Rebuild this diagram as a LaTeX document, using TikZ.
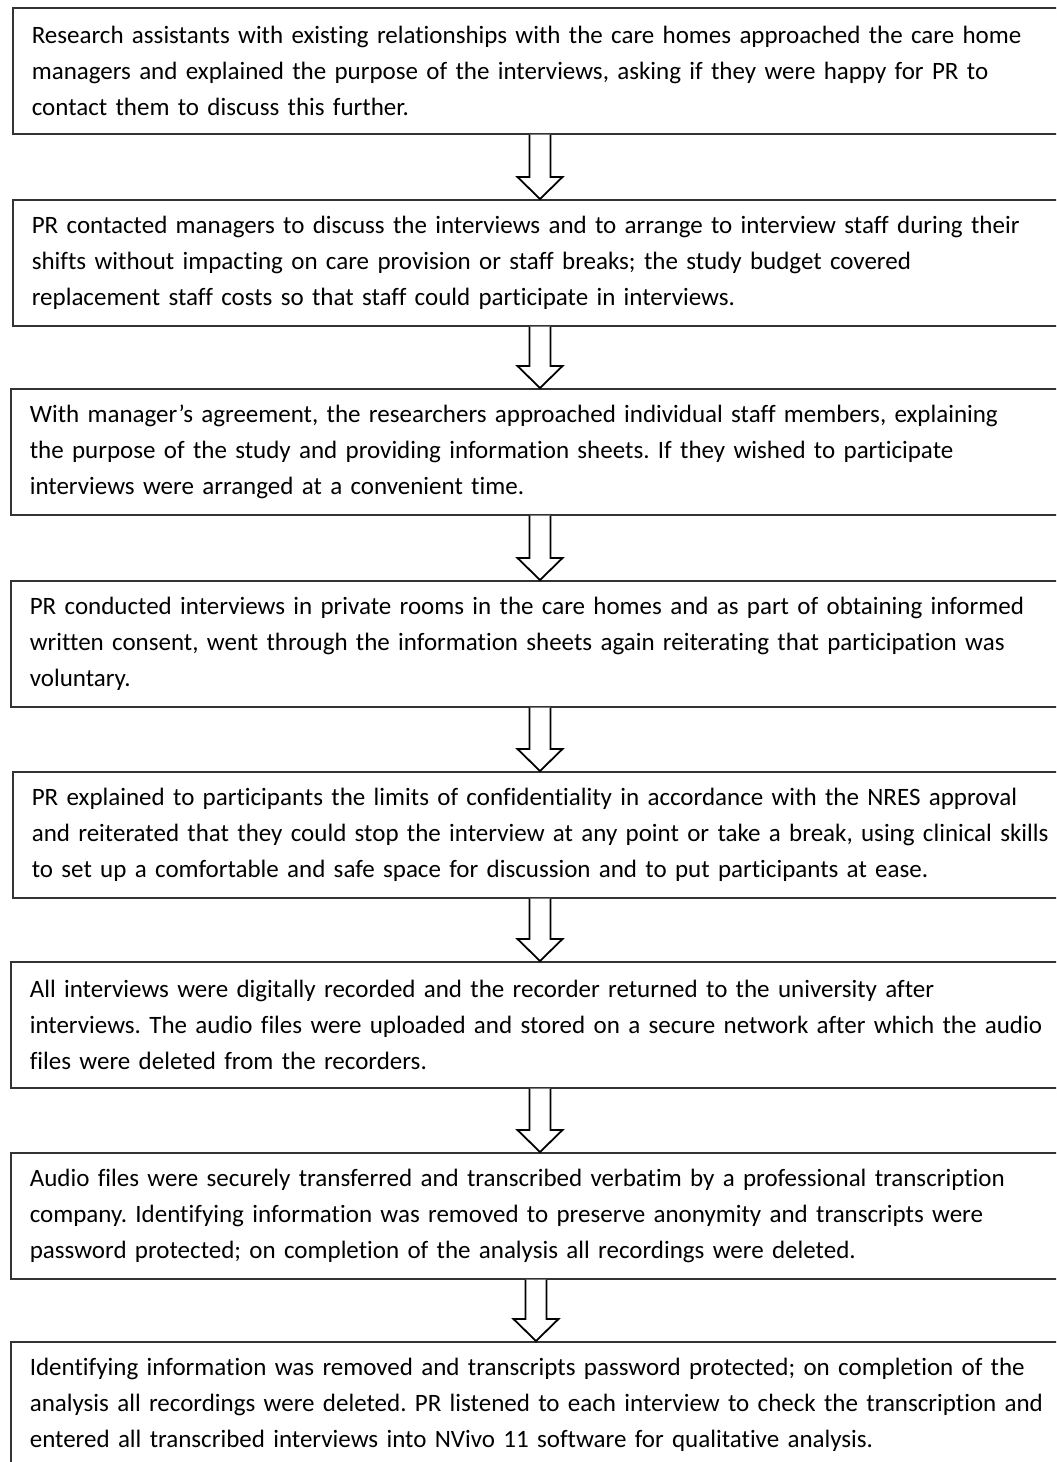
\documentclass[tikz,border=0pt]{standalone}
\usepackage{fontspec}
\setmainfont{Carlito}[Ligatures=NoCommon]
\frenchspacing
\usetikzlibrary{calc,positioning}
\tikzset{stepbox/.style={draw=black!80, line width=0.8pt, anchor=north west,
    minimum height=63pt, text width=520pt, inner xsep=9.5pt, inner ysep=0pt,
    align=left, font=\fontsize{12.5pt}{18pt}\selectfont},
  blockarrow/.style={draw=black, line width=0.9pt, fill=white, line join=miter}}

\begin{document}
\begin{tikzpicture}[x=0.5pt,y=-0.5pt]
          \clip (0,0) rectangle (1056,1462);
          \node[stepbox] (b1) at (12,7) {Research assistants with existing relationships with the care homes approached the care home\\
            managers and explained the purpose of the interviews, asking if they were happy for PR to\\
            contact them to discuss this further.};
          \node[stepbox] (b2) at (12,199) {PR contacted managers to discuss the interviews and to arrange to interview staff during their\\
            shifts without impacting on care provision or staff breaks; the study budget covered\\
            replacement staff costs so that staff could participate in interviews.};
          \node[stepbox] (b3) at (10,388) {With manager’s agreement, the researchers approached individual staff members, explaining\\
            the purpose of the study and providing information sheets. If they wished to participate\\
            interviews were arranged at a convenient time.};
          \node[stepbox] (b4) at (10,580) {PR conducted interviews in private rooms in the care homes and as part of obtaining informed\\
            written consent, went through the information sheets again reiterating that participation was\\
            voluntary.};
          \node[stepbox] (b5) at (12,771) {PR explained to participants the limits of confidentiality in accordance with the NRES approval\\
            and reiterated that they could stop the interview at any point or take a break, using clinical skills\\
            to set up a comfortable and safe space for discussion and to put participants at ease.};
          \node[stepbox] (b6) at (10,961) {All interviews were digitally recorded and the recorder returned to the university after\\
            interviews. The audio files were uploaded and stored on a secure network after which the audio\\
            files were deleted from the recorders.};
          \node[stepbox] (b7) at (10,1152) {Audio files were securely transferred and transcribed verbatim by a professional transcription\\
            company. Identifying information was removed to preserve anonymity and transcripts were\\
            password protected; on completion of the analysis all recordings were deleted.};
          \node[stepbox] (b8) at (10,1341) {Identifying information was removed and transcripts password protected; on completion of the\\
            analysis all recordings were deleted. PR listened to each interview to check the transcription and\\
            entered all transcribed interviews into NVivo 11 software for qualitative analysis.};
          % hollow arrows between the steps
          \foreach \i/\j/\ax in {1/2/540,2/3/540,3/4/540,4/5/540,5/6/540,6/7/540,7/8/536}{
            \path (b\i.south -| \ax,0) coordinate (s) (b\j.north -| \ax,0) coordinate (e);
            \draw[blockarrow] ($(s)+(-10.5,0)$) -- ($(e)+(-10.5,-22)$) -- ++(-12,0) -- (e)
              -- ($(e)+(22.5,-22)$) -- ++(-12,0) -- ($(s)+(10.5,0)$);
          }
        \end{tikzpicture}
\end{document}
